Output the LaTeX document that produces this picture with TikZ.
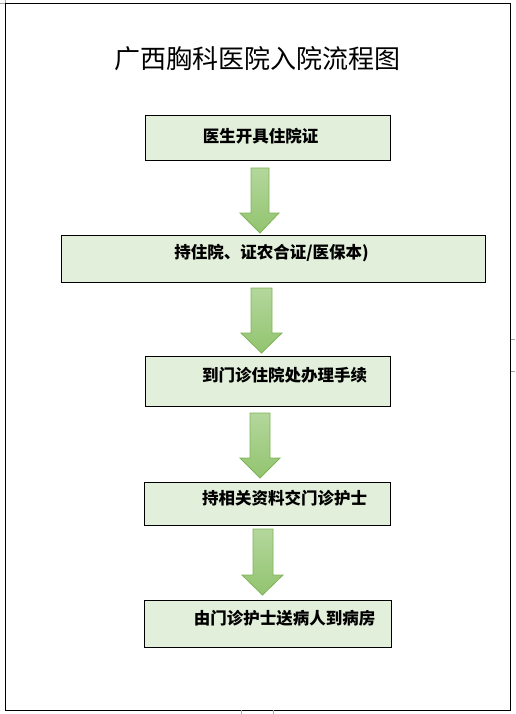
\documentclass[tikz,border=0pt]{standalone}
\usepackage{fontspec}
\newfontfamily\cjk{Noto Sans CJK SC}
\definecolor{boxfill}{HTML}{E2EFDA}
\definecolor{arrowtop}{HTML}{B4D79C}
\definecolor{arrowbot}{HTML}{92C46F}
\definecolor{arrowline}{HTML}{7EB356}
\begin{document}
\begin{tikzpicture}[x=1pt,y=-1pt,
  stepbox/.style={draw=black,line width=0.9pt,fill=boxfill,inner sep=0pt},
  steptext/.style={font=\cjk\bfseries\fontsize{16.5}{18}\selectfont,inner sep=0pt},
  blockarrow/.style={draw=arrowline,line width=0.8pt,top color=arrowtop,bottom color=arrowbot,line join=miter},
  faint/.style={draw=black!35,line width=0.8pt}]
\useasboundingbox (0,0) rectangle (515,714);
% page frame
\draw[line width=0.9pt] (5,3) rectangle (510.5,710);
\draw[faint] (0,3) -- (5,3) (5,0) -- (5,3);
\draw[faint] (510.5,339) -- (515,339) (510.5,371) -- (515,371);
\draw[faint] (241,714) -- (241,710) (273,714) -- (273,710);
% title
\node[font=\cjk\fontsize{26}{28}\selectfont,inner sep=0pt] (title) at (257.5,59) {广西胸科医院入院流程图};
% boxes
\node[stepbox,minimum width=245pt,minimum height=45pt] (b1) at (267.5,137.5) {};
\node[stepbox,minimum width=424pt,minimum height=47pt] (b2) at (273,258.5) {};
\node[stepbox,minimum width=245pt,minimum height=50pt] (b3) at (267.5,381) {};
\node[stepbox,minimum width=246pt,minimum height=43pt] (b4) at (267,503.5) {};
\node[stepbox,minimum width=247pt,minimum height=47pt] (b5) at (267.5,623.5) {};
% texts
\node[steptext] (t1) at (260.5,136) {医生开具住院证};
\node[steptext] (t2) at (271.5,253) {持住院、证农合证/医保本)};
\node[steptext] (t3) at (284.5,375) {到门诊住院处办理手续};
\node[steptext] (t4) at (284.5,498) {持相关资料交门诊护士};
\node[steptext] (t5) at (284.5,618) {由门诊护士送病人到病房};
% block arrows
\draw[blockarrow] (251,168) -- (269,168) -- (269,213) -- (279,213) -- (260,233) -- (240,213) -- (251,213) -- cycle;
\draw[blockarrow] (251,288) -- (272,288) -- (272,333) -- (282,333) -- (261.5,353) -- (241,333) -- (251,333) -- cycle;
\draw[blockarrow] (250,413) -- (270,413) -- (270,458) -- (280,458) -- (260,478) -- (240,458) -- (250,458) -- cycle;
\draw[blockarrow] (253,529) -- (273,529) -- (273,575) -- (283,575) -- (262.5,595) -- (242,575) -- (253,575) -- cycle;
\end{tikzpicture}
\end{document}
